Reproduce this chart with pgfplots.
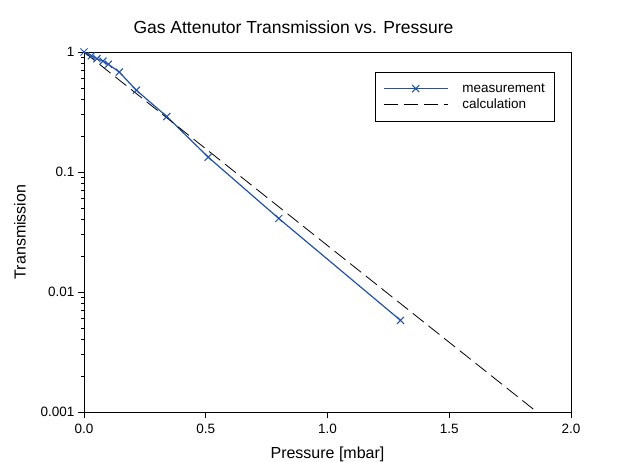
\documentclass[border=0pt]{standalone}
\usepackage{pgfplots}
\pgfplotsset{compat=1.18}
\usepackage{fontspec}
\setmainfont{Liberation Sans}
\definecolor{measblue}{RGB}{33,82,170}

\begin{document}
\begin{tikzpicture}
\begin{axis}[
    name=ax,
    scale only axis,
    width=487pt, height=360pt,
    ymode=log,
    xmin=0, xmax=2,
    ymin=0.001, ymax=1,
    xtick={0,0.5,1,1.5,2},
    xticklabel style={/pgf/number format/fixed,/pgf/number format/fixed zerofill,/pgf/number format/precision=1, yshift=-3pt},
    ytick={0.001,0.01,0.1,1},
    yticklabels={0.001,0.01,0.1,1},
    minor ytick={},
    /pgf/number format/assume math mode=true,
    tick align=outside,
    xtick pos=bottom, ytick pos=left,
    major tick length=6pt,
    tick style={black, line width=0.6pt},
    axis line style={line width=0.8pt},
    ticklabel style={font=\fontsize{13.5}{15}\selectfont},
    xlabel={Pressure [mbar]},
    ylabel={Transmission},
    label style={font=\fontsize{16}{18}\selectfont},
    xlabel style={yshift=-6pt},
    ylabel style={yshift=8pt},
    title={Gas Attenutor Transmission vs. Pressure},
    title style={font=\fontsize{17.5}{20}\selectfont, yshift=9pt, xshift=-34pt},
    legend style={at={(0.597,0.944)}, anchor=north west,
        font=\fontsize{13.5}{16}\selectfont, draw=black, line width=0.7pt,
        inner xsep=8pt, inner ysep=9pt, row sep=1pt,
        /tikz/every odd column/.append style={column sep=12pt}},
    legend cell align=left,
    legend image code/.code={%
        \draw[mark repeat=2, mark phase=2, #1]
        plot coordinates {(0pt,0pt) (32pt,0pt) (64pt,0pt)};},
]

% measurement
\addplot[measblue, line width=1.2pt, mark=x, mark size=5pt, mark options={solid, line width=1pt}]
coordinates {
(0,1)
(0.03,0.93)
(0.053,0.88)
(0.078,0.84)
(0.10,0.79)
(0.145,0.68)
(0.215,0.48)
(0.34,0.29)
(0.51,0.133)
(0.80,0.041)
(1.30,0.0058)
};

% calculation (straight line on log scale)
\addplot[black, line width=0.8pt, dash pattern=on 14pt off 6pt, mark=none]
coordinates {(0,1) (1.86,0.001)};

\legend{measurement, calculation}
\end{axis}
\pgfresetboundingbox
\path ([xshift=-84pt,yshift=-50pt]ax.south west) rectangle ([xshift=47pt,yshift=52pt]ax.north east);
\end{tikzpicture}
\end{document}
